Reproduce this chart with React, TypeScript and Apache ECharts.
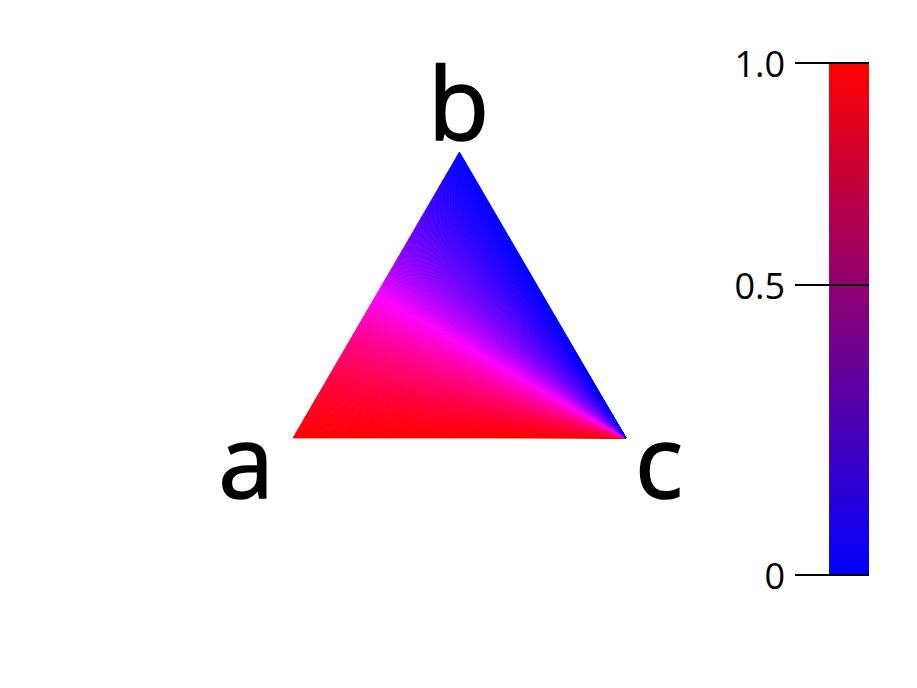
import React, { useEffect, useRef } from 'react';
import * as echarts from 'echarts';

// ternary corners and their labels
const vertexLabels = ['a', 'b', 'c'];
const vertexCompositions = [
  [1, 0, 0],
  [0, 1, 0],
  [0, 0, 1],
];

// colour bar
const colorbarTicks = [0, 0.5, 1];
const colorbarTickLabels = ['0', '0.5', '1.0'];
const colorbarTickPositions = [0, 0.566, 1]; // where each tick sits along the bar (0 = bottom)
const colorbarColors = ['#0000ff', '#ff0000'];

// rendering resolution of the ternary field (slices fanned out from corner c)
const FAN_STEPS = 240;

const SQRT3_2 = Math.sqrt(3) / 2;
const FONT = '"Open Sans", "Noto Sans", sans-serif';

// label offsets (px) from each corner
const labelOffsets = [
  [-47, 21],
  [-1, -51],
  [33, 21],
];

function ternaryToXY(a: number, b: number, c: number): number[] {
  const s = a + b + c;
  return [(c + b / 2) / s, (b * SQRT3_2) / s];
}

// colour depends only on the a:b ratio -> constant along lines through c
function ratioColor(t: number): string {
  const r = t <= 0.5 ? 1 : (1 - t) / t;
  const bl = t >= 0.5 ? 1 : t / (1 - t);
  return `rgb(${Math.round(r * 255)},0,${Math.round(bl * 255)})`;
}

export default function App() {
  const chartRef = useRef<HTMLDivElement>(null);

  useEffect(() => {
    if (!chartRef.current) return;
    const chart = echarts.init(chartRef.current, null, { renderer: 'svg' });

    const edgeFractions = Array.from({ length: FAN_STEPS + 1 }, (_, i) => i / FAN_STEPS);
    const slices = edgeFractions.slice(0, -1).map((t, i) => [t, edgeFractions[i + 1]]);

    const option: echarts.EChartsOption = {
      animation: false,
      backgroundColor: '#ffffff',
      grid: [
        { left: 293, top: 152, width: 333, height: 286 },
        { left: 795, top: 63, width: 74, height: 512 },
      ],
      xAxis: [
        { gridIndex: 0, type: 'value', min: 0, max: 1, show: false },
        { gridIndex: 1, type: 'value', min: 0, max: 1, show: false },
      ],
      yAxis: [
        { gridIndex: 0, type: 'value', min: 0, max: SQRT3_2, show: false },
        {
          gridIndex: 1,
          type: 'value',
          min: 0,
          max: 1,
          position: 'left',
          z: 10,
          splitLine: { show: false },
          axisLine: { show: false },
          axisTick: {
            show: true,
            inside: true,
            length: 74,
            customValues: colorbarTickPositions,
            lineStyle: { color: '#000', width: 2 },
          },
          axisLabel: {
            show: true,
            customValues: colorbarTickPositions,
            margin: 10,
            color: '#000',
            fontSize: 36,
            fontFamily: FONT,
            formatter: (v: number) => {
              const i = colorbarTickPositions.findIndex((p) => Math.abs(p - v) < 1e-6);
              return i >= 0 ? colorbarTickLabels[i] : String(colorbarTicks[0]);
            },
          },
        },
      ],
      series: [
        {
          type: 'custom',
          xAxisIndex: 0,
          yAxisIndex: 0,
          silent: true,
          data: slices,
          renderItem: (params: any, api: any) => {
            const t0 = api.value(0);
            const t1 = api.value(1);
            const pc = api.coord(ternaryToXY(0, 0, 1));
            const p0 = api.coord(ternaryToXY(1 - t0, t0, 0));
            const p1 = api.coord(ternaryToXY(1 - t1, t1, 0));
            const col = ratioColor((t0 + t1) / 2);
            return {
              type: 'polygon',
              shape: { points: [pc, p0, p1] },
              style: { fill: col, stroke: col, lineWidth: 0.8 },
            };
          },
        },
        {
          type: 'scatter',
          xAxisIndex: 0,
          yAxisIndex: 0,
          symbolSize: 0,
          silent: true,
          itemStyle: { opacity: 1 },
          data: vertexCompositions.map((comp, i) => ({
            value: ternaryToXY(comp[0], comp[1], comp[2]),
            name: vertexLabels[i],
            label: { offset: labelOffsets[i] },
          })),
          label: {
            show: true,
            position: 'inside',
            formatter: '{b}',
            color: '#000',
            fontSize: 100,
            fontFamily: FONT,
            fontWeight: 'normal',
            textBorderColor: '#000',
            textBorderWidth: 1.6,
          },
        },
        {
          type: 'custom',
          xAxisIndex: 1,
          yAxisIndex: 1,
          silent: true,
          data: [[0.46, 1]],
          renderItem: (params: any, api: any) => {
            const p0 = api.coord([api.value(0), 1]);
            const p1 = api.coord([api.value(1), 0]);
            return {
              type: 'rect',
              shape: { x: p0[0], y: p0[1], width: p1[0] - p0[0], height: p1[1] - p0[1] },
              style: {
                fill: new echarts.graphic.LinearGradient(0, 1, 0, 0, [
                  { offset: 0, color: colorbarColors[0] },
                  { offset: 1, color: colorbarColors[1] },
                ]),
              },
            };
          },
        },
      ],
    };

    chart.setOption(option);
    return () => {
      chart.dispose();
    };
  }, []);

  return (
    <div
      ref={chartRef}
      style={{ position: 'fixed', left: 0, top: 0, width: 917, height: 688 }}
    />
  );
}
